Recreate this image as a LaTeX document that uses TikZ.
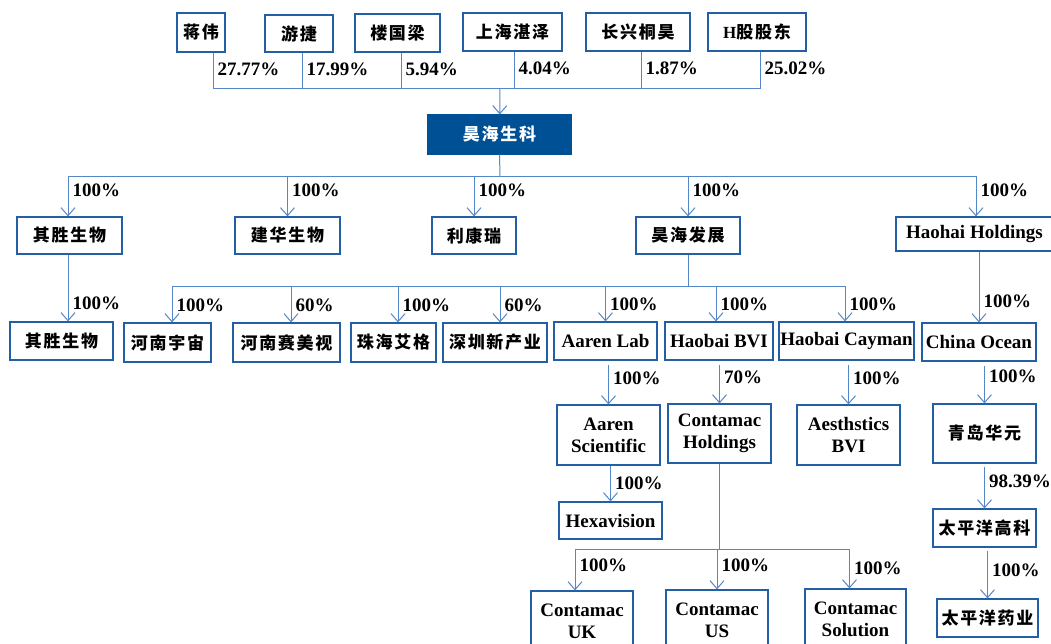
\documentclass[tikz,border=0pt]{standalone}
\usepackage{fontspec}
\setmainfont{Liberation Serif}
\newfontfamily\cjk{Noto Sans CJK SC}[LetterSpace=10]
\usepackage{tikz}
\usetikzlibrary{arrows.meta, positioning}
\definecolor{hhblue}{RGB}{0, 80, 150}
\definecolor{hhedge}{RGB}{35, 95, 165}
\definecolor{hhline}{RGB}{85, 135, 200}

\begin{document}
\begin{tikzpicture}[x=1pt, y=-1pt, font=\fontsize{19}{22}\selectfont\bfseries,
  box/.style={draw=hhedge, line width=1.2pt, fill=white, inner sep=1pt, minimum height=38pt, align=center},
  zh/.style={box, font=\fontsize{17}{20}\selectfont\cjk\bfseries},
  ln/.style={hhline, line width=1pt},
  arr/.style={ln, -{Straight Barb[length=8pt, width=14pt, line width=1pt]}},
  pct/.style={right=3pt, inner sep=1pt, text=black}]
  \useasboundingbox (0,0) rectangle (1051,643);

  % shareholders
  \node[zh, minimum width=48pt, minimum height=39pt] (jw) at (201,32.5) {蒋伟};
  \node[zh, minimum width=68pt, minimum height=37pt] (yj) at (299,33.5) {游捷};
  \node[zh, minimum width=85pt] (lgl) at (397.5,33) {楼国梁};
  \node[zh, minimum width=99pt] (shzz) at (512.5,32) {上海湛泽};
  \node[zh, minimum width=104pt] (cxth) at (638,32) {长兴桐昊};
  \node[zh, minimum width=98pt] (hgd) at (757,32) {{\rmfamily H}股股东};
  \node[zh, fill=hhblue, draw=hhblue, text=white, minimum width=143pt, minimum height=39pt] (hh) at (499.5,134.5) {昊海生科};

  \coordinate (top) at (500,88);
  \draw[ln] ([xshift=12pt]jw.south) |- node[pct, pos=0.23] {27.77\%} (top);
  \draw[ln] ([xshift=3pt]yj.south) |- node[pct, pos=0.23] {17.99\%} (top);
  \draw[ln] ([xshift=3.5pt]lgl.south) |- node[pct, pos=0.23] {5.94\%} (top);
  \draw[ln] ([xshift=1.5pt]shzz.south) |- node[pct, pos=0.23] {4.04\%} (top);
  \draw[ln] ([xshift=3pt]cxth.south) |- node[pct, pos=0.23] {1.87\%} (top);
  \draw[ln] ([xshift=3pt]hgd.south) |- node[pct, pos=0.23] {25.02\%} (top);
  \draw[arr] (top) -- (hh);

  % subsidiaries
  \node[zh, minimum width=105pt, minimum height=37pt] (qs1) at (69.5,235.5) {其胜生物};
  \node[zh, minimum width=105pt, minimum height=37pt] (jh) at (287.5,235.5) {建华生物};
  \node[zh, minimum width=84pt, minimum height=37pt] (lkr) at (474,235.5) {利康瑞};
  \node[zh, minimum width=104pt, minimum height=37pt] (hfz) at (688,235.5) {昊海发展};
  \node[box, minimum width=157pt, minimum height=34pt] (hhh) at (974.5,234) {Haohai Holdings};

  \coordinate (b2) at (500,176);
  \draw[ln] (hh.south) -- (b2);
  \draw[arr] (b2) -| node[pct, pos=0.68] {100\%} ([xshift=-1.5pt]qs1.north);
  \draw[arr] (b2) -| node[pct, pos=0.68] {100\%} (jh);
  \draw[arr] (b2) -| node[pct, pos=0.68] {100\%} (lkr);
  \draw[arr] (b2) -| node[pct, pos=0.68] {100\%} (hfz);
  \draw[arr] (b2) -| node[pct, pos=0.68] {100\%} ([xshift=1.5pt]hhh.north);

  \node[zh, minimum width=103pt] (qs2) at (61.5,341) {其胜生物};
  \draw[arr] ([xshift=-1.5pt]qs1.south) -- node[pct, pos=0.73] {100\%} ([xshift=-1.5pt]qs1.south |- qs2.north);

  \node[zh, minimum width=87pt, minimum height=39pt] (hnyz) at (167.5,342.5) {河南宇宙};
  \node[zh, minimum width=107pt, minimum height=39pt] (hnsms) at (286.5,342.5) {河南赛美视};
  \node[zh, minimum width=85pt, minimum height=39pt] (zhag) at (393.5,342.5) {珠海艾格};
  \node[zh, minimum width=104pt, minimum height=39pt] (szxcy) at (495,342.5) {深圳新产业};
  \node[box, minimum width=103pt] (aal) at (605.5,341) {Aaren Lab};
  \node[box, minimum width=108pt] (hbvi) at (719,341) {Haobai BVI};
  \node[box, minimum width=135pt] (hcay) at (846.5,341) {Haobai Cayman};
  \node[box, minimum width=114pt] (co) at (979,342) {China Ocean};

  \coordinate (b3) at (688,286);
  \draw[ln] (hfz) -- (b3);
  \draw[arr] (b3) -| node[pct, pos=0.76] {100\%} ([xshift=4.5pt]hnyz.north);
  \draw[arr] (b3) -| node[pct, pos=0.76] {60\%} ([xshift=4.5pt]hnsms.north);
  \draw[arr] (b3) -| node[pct, pos=0.76] {100\%} ([xshift=4.5pt]zhag.north);
  \draw[arr] (b3) -| node[pct, pos=0.76] {60\%} ([xshift=5pt]szxcy.north);
  \draw[arr] (b3) -| node[pct, pos=0.76] {100\%} (aal);
  \draw[arr] (b3) -| node[pct, pos=0.76] {100\%} ([xshift=-3pt]hbvi.north);
  \draw[arr] (b3) -| node[pct, pos=0.76] {100\%} ([xshift=-1.5pt]hcay.north);
  \draw[arr] (hhh.south -| co) -- node[pct, pos=0.7] {100\%} (co);

  \node[box, minimum width=103pt, minimum height=60pt] (asci) at (608.5,435) {Aaren\\Scientific};
  \node[box, minimum width=103pt, minimum height=59pt] (chold) at (719.5,433.5) {Contamac\\Holdings};
  \node[box, minimum width=103pt, minimum height=60pt] (abvi) at (848.5,435) {Aesthstics\\BVI};
  \node[zh, minimum width=103pt, minimum height=59pt] (qdhy) at (984.5,433.5) {青岛华元};
  \draw[arr, shorten <=4pt] (aal.south -| asci) -- node[pct, pos=0.4] {100\%} (asci);
  \draw[arr, shorten <=4pt] (hbvi.south -| chold) -- node[pct, pos=0.4] {70\%} (chold);
  \draw[arr, shorten <=4pt] (hcay.south -| abvi) -- node[pct, pos=0.4] {100\%} (abvi);
  \draw[arr, shorten <=4pt] (co.south -| qdhy) -- node[pct, pos=0.35] {100\%} (qdhy);

  \node[box, minimum width=103pt, minimum height=37pt] (hexa) at (610.5,520.5) {Hexavision};
  \node[zh, minimum width=103pt] (tpygk) at (984.5,528) {太平洋高科};
  \draw[arr] (asci.south -| hexa) -- node[pct, pos=0.5] {100\%} (hexa);
  \draw[arr, shorten <=3pt] (qdhy.south -| tpygk) -- node[pct, pos=0.4] {98.39\%} (tpygk);

  \node[box, minimum width=102pt, minimum height=60pt] (cuk) at (582,621) {Contamac\\UK};
  \node[box, minimum width=102pt, minimum height=60pt] (cus) at (717,620) {Contamac\\US};
  \node[box, minimum width=101pt, minimum height=60pt] (csol) at (855.5,619) {Contamac\\Solution};
  \node[zh, minimum width=101pt] (tpyyy) at (987.5,618) {太平洋药业};

  \coordinate (b4) at (719.5,549);
  \draw[ln] (chold) -- (b4);
  \draw[arr] (b4) -| node[pct, pos=0.7] {100\%} ([xshift=-7pt]cuk.north);
  \draw[arr] (b4) -| node[pct, pos=0.7] {100\%} (cus);
  \draw[arr] (b4) -| node[pct, pos=0.74] {100\%} ([xshift=-6pt]csol.north);
  \draw[arr, shorten <=3pt] (tpygk.south -| tpyyy) -- node[pct, pos=0.45] {100\%} (tpyyy);
\end{tikzpicture}
\end{document}
